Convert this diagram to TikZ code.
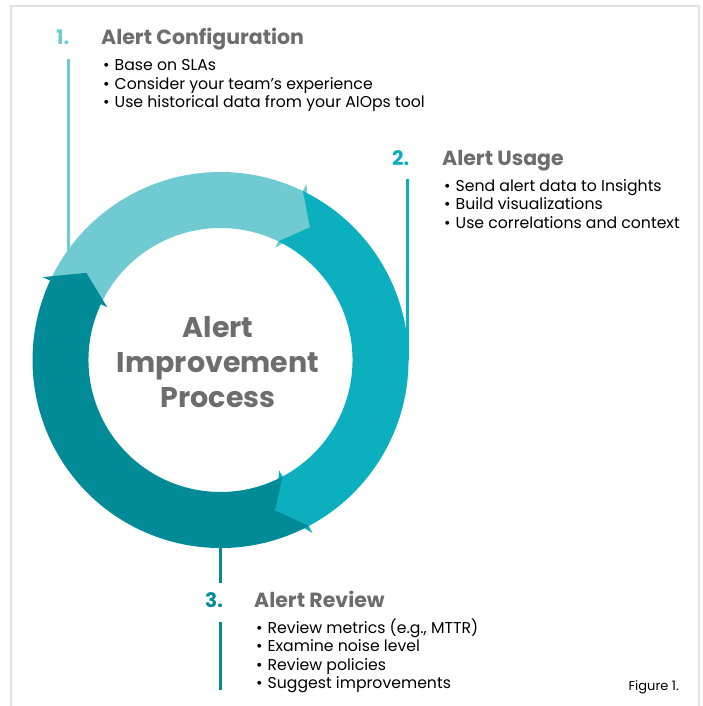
\documentclass[tikz,border=0pt]{standalone}
\usepackage{fontspec}
\setmainfont{Poppins}
\usepackage{tikz}
\usetikzlibrary{positioning}

\definecolor{RingLight}{HTML}{70CAD1}
\definecolor{RingMid}{HTML}{0BAFBE}
\definecolor{RingDark}{HTML}{008B96}
\definecolor{HeadGrey}{HTML}{6D6D6D}
\definecolor{FrameGrey}{HTML}{E2E2E2}

% one arrow of the ring: start angle, barb angle, colour
\newcommand{\ringarrow}[3]{%
  \fill[#3] (#1:188) arc[start angle=#1, end angle=#2, radius=188]
    -- (#2:196) -- ({#2-8}:160) -- (#2:125) -- (#2:132)
    arc[start angle=#2, end angle=#1, radius=132]
    -- ({#1-8}:160) -- cycle;}

\tikzset{
  numlbl/.style={anchor=base west, inner sep=0pt, font=\fontsize{20}{20}\selectfont\bfseries},
  headlbl/.style={anchor=base west, inner sep=0pt, text=HeadGrey, font=\fontsize{20.5}{20}\selectfont\bfseries},
  itemlbl/.style={anchor=base west, inner sep=0pt, font=\fontsize{15.7}{16}\selectfont},
  leadline/.style={line width=3pt},
}

\begin{document}
\begin{tikzpicture}[x=1pt, y=-1pt]
  \useasboundingbox (0,0) rectangle (702,706);
  \draw[FrameGrey, line width=1.5pt] (11,712) -- (11,6) -- (699,6) -- (699,712);

  % lead lines, drawn under the ring
  \coordinate (l1top) at (68,59);
  \coordinate (l1end) at (68,270);
  \coordinate (l2top) at (407,179);
  \coordinate (l2end) at (407,360);
  \coordinate (l3top) at (220,540);
  \coordinate (l3end) at (220,583);
  \coordinate (l4top) at (220,622);
  \coordinate (l4end) at (220,690);
  \draw[leadline, RingLight] (l1top) -- (l1end);
  \draw[leadline, RingMid] (l2top) -- (l2end);
  \draw[leadline, RingDark] (l3top) -- (l3end);
  \draw[leadline, RingDark] (l4top) -- (l4end);

  % the ring
  \begin{scope}[shift={(220.5,360)}, yscale=-1]
    \ringarrow{155}{64}{RingLight}
    \ringarrow{64}{-62}{RingMid}
    \ringarrow{-62}{-205}{RingDark}
  \end{scope}

  \node[align=center, text=HeadGrey, font=\fontsize{28.5}{35}\selectfont\bfseries]
    (centre) at (218,362) {Alert\\Improvement\\Process};

  % step 1
  \node[numlbl, text=RingLight] (n1) at (56,45) {1.};
  \node[headlbl] (h1) at (101,45) {Alert Configuration};
  \node[itemlbl] (i11) at (103,71) {•\hspace{5pt}Base on SLAs};
  \node[itemlbl] (i12) at (103,89.5) {•\hspace{5pt}Consider your team’s experience};
  \node[itemlbl] (i13) at (103,108) {•\hspace{5pt}Use historical data from your AIOps tool};

  % step 2
  \node[numlbl, text=RingMid] (n2) at (392,165) {2.};
  \node[headlbl] (h2) at (442,165) {Alert Usage};
  \node[itemlbl] (i21) at (444,191) {•\hspace{5pt}Send alert data to Insights};
  \node[itemlbl] (i22) at (444,209.5) {•\hspace{5pt}Build visualizations};
  \node[itemlbl] (i23) at (444,228) {•\hspace{5pt}Use correlations and context};

  % step 3
  \node[numlbl, text=RingDark] (n3) at (205,607) {3.};
  \node[headlbl] (h3) at (254,607) {Alert Review};
  \node[itemlbl] (i31) at (256,633) {•\hspace{5pt}Review metrics (e.g., MTTR)};
  \node[itemlbl] (i32) at (256,651.5) {•\hspace{5pt}Examine noise level};
  \node[itemlbl] (i33) at (256,670) {•\hspace{5pt}Review policies};
  \node[itemlbl] (i34) at (256,688.5) {•\hspace{5pt}Suggest improvements};

  \node[anchor=base east, inner sep=0pt, font=\fontsize{13}{13}\selectfont] (fig) at (679,690) {Figure 1.};
\end{tikzpicture}
\end{document}
